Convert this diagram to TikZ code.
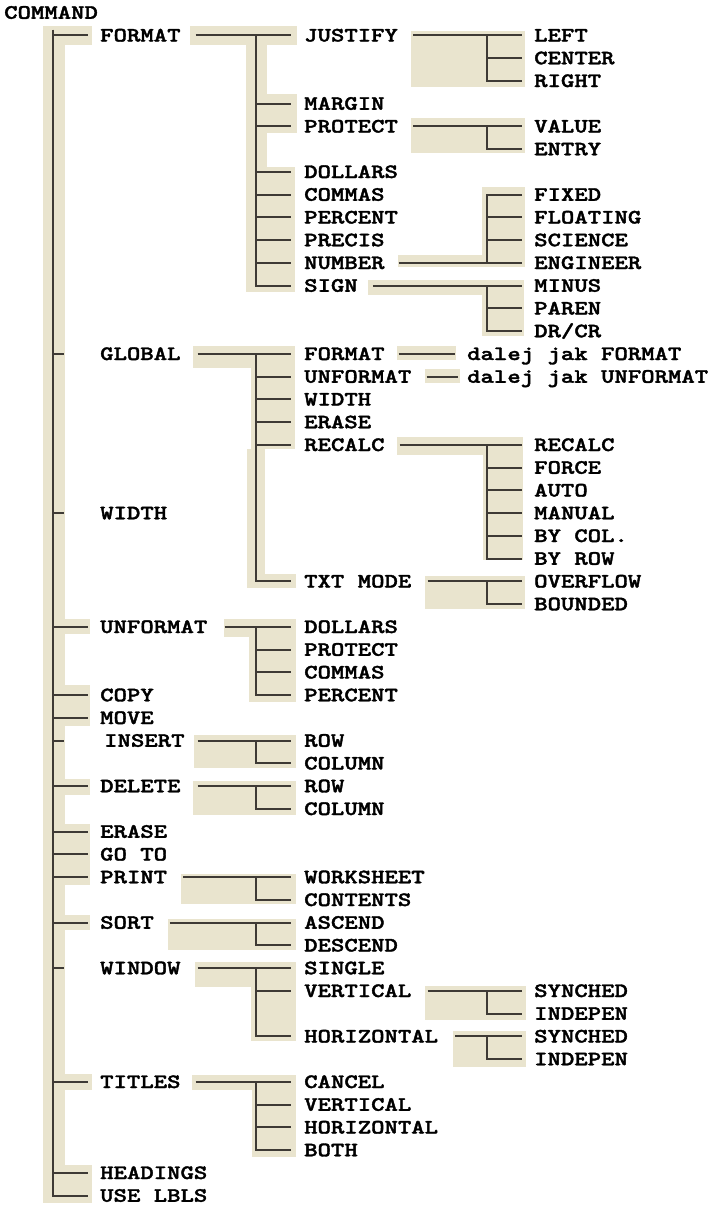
\documentclass[tikz,border=0pt]{standalone}
\usepackage{graphicx}
\usepackage{fontspec}
\newfontfamily\cmdfont[FakeBold=1.6]{lmmonolt10-bold.otf}
\usetikzlibrary{positioning}
\definecolor{paper}{RGB}{233,228,206}
\definecolor{ink}{RGB}{62,58,53}
\newcommand\tw[1]{\scalebox{1}[0.8]{#1}}

\begin{document}
\begin{tikzpicture}[x=1pt, y=-22.75pt,
    lbl/.style={anchor=west, inner sep=0pt, text height=12.5pt, text depth=0pt,
      font=\fontsize{25.5}{26}\selectfont\cmdfont},
    br/.style={draw=ink, line width=2pt}]
  \useasboundingbox (0,-0.5495) rectangle (716,52.418);
  \foreach \a/\b/\c/\d in {43/0.59/65/52.33, 65/0.59/92/1.43, 65/26.66/90/27.34,
      65/29.56/90/31.36, 65/33.69/90/34.4, 65/35.67/90/38.35, 65/39.67/90/40.33,
      65/46.66/92/47.36, 65/50.66/92/52.33,
      190/0.6/297/1.42, 246/1.42/267/12.3, 246/3.6/297/5.3, 246/6.8/295/12.3,
      193/14.66/295/15.63, 251/15.63/295/19.2, 247/19.2/265/25.3, 247/24.66/296/25.3,
      224/26.66/296/27.45, 249/27.45/296/30.3, 194/31.76/296/33.2, 193/33.78/296/35.28,
      181/37.87/296/39.19, 168/39.85/296/41.21, 195/41.74/296/42.84, 251/42.84/296/45.2,
      192/46.7/296/47.36, 252/47.36/296/50.3,
      411/0.81/525/3.27, 411/4.64/525/6.18, 482/7.67/525/11.19, 398/10.66/525/11.19,
      368/11.76/492/12.42, 482/11.76/524/14.22, 397/14.66/456/15.27, 425/15.67/460/16.29,
      397/18.66/490/19.45, 483/18.66/523/24.07, 425/24.77/525/26.22,
      425/42.79/526/44.28, 453/44.77/526/46.36}
    \fill[paper] (\a,\b) rectangle (\c,\d);

  \node[lbl] (cmd) at (4,0) {\tw{COMMAND}};
  \node[lbl] (fmt) at (100,1) {\tw{FORMAT}};
  \node[lbl] (glob) at (100,15) {\tw{GLOBAL}};
  \node[lbl] (wid) at (100,22) {\tw{WIDTH}};
  \node[lbl] (unf) at (100,27) {\tw{UNFORMAT}};
  \node[lbl] (copy) at (100,30) {\tw{COPY}};
  \node[lbl] (move) at (100,31) {\tw{MOVE}};
  \node[lbl] (ins) at (104,32) {\tw{INSERT}};
  \node[lbl] (del) at (100,34) {\tw{DELETE}};
  \node[lbl] (erase) at (100,36) {\tw{ERASE}};
  \node[lbl] (goto) at (100,37) {\tw{GO TO}};
  \node[lbl] (print) at (100,38) {\tw{PRINT}};
  \node[lbl] (sort) at (100,40) {\tw{SORT}};
  \node[lbl] (win) at (100,42) {\tw{WINDOW}};
  \node[lbl] (tit) at (100,47) {\tw{TITLES}};
  \node[lbl] (head) at (100,51) {\tw{HEADINGS}};
  \node[lbl] (lbls) at (100,52) {\tw{USE LBLS}};

  \node[lbl] (just) at (304,1) {\tw{JUSTIFY}};
  \node[lbl] (margin) at (304,4) {\tw{MARGIN}};
  \node[lbl] (prot) at (304,5) {\tw{PROTECT}};
  \node[lbl] (dol) at (304,7) {\tw{DOLLARS}};
  \node[lbl] (com) at (304,8) {\tw{COMMAS}};
  \node[lbl] (perc) at (304,9) {\tw{PERCENT}};
  \node[lbl] (precis) at (304,10) {\tw{PRECIS}};
  \node[lbl] (num) at (304,11) {\tw{NUMBER}};
  \node[lbl] (sign) at (304,12) {\tw{SIGN}};
  \node[lbl] (gfmt) at (304,15) {\tw{FORMAT}};
  \node[lbl] (gunf) at (304,16) {\tw{UNFORMAT}};
  \node[lbl] (gwid) at (304,17) {\tw{WIDTH}};
  \node[lbl] (gera) at (304,18) {\tw{ERASE}};
  \node[lbl] (grec) at (304,19) {\tw{RECALC}};
  \node[lbl] (gtxt) at (304,25) {\tw{TXT MODE}};
  \node[lbl] (udol) at (304,27) {\tw{DOLLARS}};
  \node[lbl] (uprot) at (304,28) {\tw{PROTECT}};
  \node[lbl] (ucom) at (304,29) {\tw{COMMAS}};
  \node[lbl] (uperc) at (304,30) {\tw{PERCENT}};
  \node[lbl] (irow) at (304,32) {\tw{ROW}};
  \node[lbl] (icol) at (304,33) {\tw{COLUMN}};
  \node[lbl] (drow) at (304,34) {\tw{ROW}};
  \node[lbl] (dcol) at (304,35) {\tw{COLUMN}};
  \node[lbl] (pws) at (304,38) {\tw{WORKSHEET}};
  \node[lbl] (pcont) at (304,39) {\tw{CONTENTS}};
  \node[lbl] (sasc) at (304,40) {\tw{ASCEND}};
  \node[lbl] (sdesc) at (304,41) {\tw{DESCEND}};
  \node[lbl] (wsing) at (304,42) {\tw{SINGLE}};
  \node[lbl] (wvert) at (304,43) {\tw{VERTICAL}};
  \node[lbl] (whor) at (304,45) {\tw{HORIZONTAL}};
  \node[lbl] (tcan) at (304,47) {\tw{CANCEL}};
  \node[lbl] (tvert) at (304,48) {\tw{VERTICAL}};
  \node[lbl] (thor) at (304,49) {\tw{HORIZONTAL}};
  \node[lbl] (tboth) at (304,50) {\tw{BOTH}};

  \node[lbl] (left) at (534,1) {\tw{LEFT}};
  \node[lbl] (center) at (534,2) {\tw{CENTER}};
  \node[lbl] (right) at (534,3) {\tw{RIGHT}};
  \node[lbl] (value) at (534,5) {\tw{VALUE}};
  \node[lbl] (entry) at (534,6) {\tw{ENTRY}};
  \node[lbl] (fixed) at (534,8) {\tw{FIXED}};
  \node[lbl] (float) at (534,9) {\tw{FLOATING}};
  \node[lbl] (sci) at (534,10) {\tw{SCIENCE}};
  \node[lbl] (eng) at (534,11) {\tw{ENGINEER}};
  \node[lbl] (minus) at (534,12) {\tw{MINUS}};
  \node[lbl] (paren) at (534,13) {\tw{PAREN}};
  \node[lbl] (drcr) at (534,14) {\tw{DR/CR}};
  \node[lbl] (gfmtx) at (467,15) {\tw{dalej jak FORMAT}};
  \node[lbl] (gunfx) at (467,16) {\tw{dalej jak UNFORMAT}};
  \node[lbl] (rrec) at (534,19) {\tw{RECALC}};
  \node[lbl] (rforce) at (534,20) {\tw{FORCE}};
  \node[lbl] (rauto) at (534,21) {\tw{AUTO}};
  \node[lbl] (rman) at (534,22) {\tw{MANUAL}};
  \node[lbl] (rcol) at (534,23) {\tw{BY COL.}};
  \node[lbl] (rrow) at (534,24) {\tw{BY ROW}};
  \node[lbl] (over) at (534,25) {\tw{OVERFLOW}};
  \node[lbl] (bound) at (534,26) {\tw{BOUNDED}};
  \node[lbl] (vsyn) at (534,43) {\tw{SYNCHED}};
  \node[lbl] (vind) at (534,44) {\tw{INDEPEN}};
  \node[lbl] (hsyn) at (534,45) {\tw{SYNCHED}};
  \node[lbl] (hind) at (534,46) {\tw{INDEPEN}};

  \coordinate (t0) at (53,0.75);
  \draw[br] (t0) |- ([xshift=-12pt]lbls.west);
  \foreach \c in {fmt,unf,copy,move,del,erase,goto,print,sort,tit,head}
    \draw[br] (t0 |- \c) -- ([xshift=-12pt]\c.west);
  \foreach \c/\s in {glob/36,wid/36,ins/40,win/36}
    \draw[br] (t0 |- \c) -- ([xshift=-\s pt]\c.west);

  \coordinate (jf) at (256,1);
  \draw[br] ([xshift=15pt]fmt.east) -- ([xshift=-13pt]just.west);
  \draw[br] (jf) |- ([xshift=-13pt]sign.west);
  \foreach \c in {margin,prot,dol,com,perc,precis,num}
    \draw[br] (jf |- \c) -- ([xshift=-13pt]\c.west);

  \coordinate (jg) at (256,15);
  \draw[br] ([xshift=17pt]glob.east) -- ([xshift=-13pt]gfmt.west);
  \draw[br] (jg) |- ([xshift=-13pt]gtxt.west);
  \foreach \c in {gunf,gwid,gera,grec}
    \draw[br] (jg |- \c) -- ([xshift=-13pt]\c.west);

  \coordinate (ju) at (256,27);
  \draw[br] ([xshift=17pt]unf.east) -- ([xshift=-13pt]udol.west);
  \draw[br] (ju) |- ([xshift=-13pt]uperc.west);
  \foreach \c in {uprot,ucom}
    \draw[br] (ju |- \c) -- ([xshift=-13pt]\c.west);

  \foreach \p/\s/\a/\b in {ins/13/irow/icol, del/17/drow/dcol, print/16/pws/pcont,
      sort/16/sasc/sdesc}{
    \draw[br] ([xshift=\s pt]\p.east) -- ([xshift=-13pt]\a.west);
    \draw[br] (256,0 |- \a) |- ([xshift=-13pt]\b.west);
  }

  \coordinate (jw) at (256,42);
  \draw[br] ([xshift=17pt]win.east) -- ([xshift=-13pt]wsing.west);
  \draw[br] (jw) |- ([xshift=-13pt]whor.west);
  \draw[br] (jw |- wvert) -- ([xshift=-13pt]wvert.west);

  \coordinate (jt) at (256,47);
  \draw[br] ([xshift=15pt]tit.east) -- ([xshift=-13pt]tcan.west);
  \draw[br] (jt) |- ([xshift=-13pt]tboth.west);
  \foreach \c in {tvert,thor}
    \draw[br] (jt |- \c) -- ([xshift=-13pt]\c.west);

  \foreach \p/\s/\a/\b in {just/15/left/right, prot/15/value/entry, sign/15/minus/drcr,
      grec/15/rrec/rrow, gtxt/16/over/bound, wvert/16/vsyn/vind, whor/17/hsyn/hind}{
    \draw[br] ([xshift=\s pt]\p.east) -- ([xshift=-12pt]\a.west);
    \draw[br] (487,0 |- \a) |- ([xshift=-12pt]\b.west);
  }
  \foreach \c in {center,paren,rforce,rauto,rman,rcol}
    \draw[br] (487,0 |- \c) -- ([xshift=-12pt]\c.west);

  \coordinate (jn) at (487,11);
  \draw[br] ([xshift=14pt]num.east) -- ([xshift=-12pt]eng.west);
  \draw[br] ([xshift=-12pt]fixed.west) -| (jn);
  \foreach \c in {float,sci}
    \draw[br] (jn |- \c) -- ([xshift=-12pt]\c.west);

  \draw[br] ([xshift=14pt]gfmt.east) -- ([xshift=-12pt]gfmtx.west);
  \draw[br] ([xshift=15pt]gunf.east) -- ([xshift=-9pt]gunfx.west);
\end{tikzpicture}
\end{document}
